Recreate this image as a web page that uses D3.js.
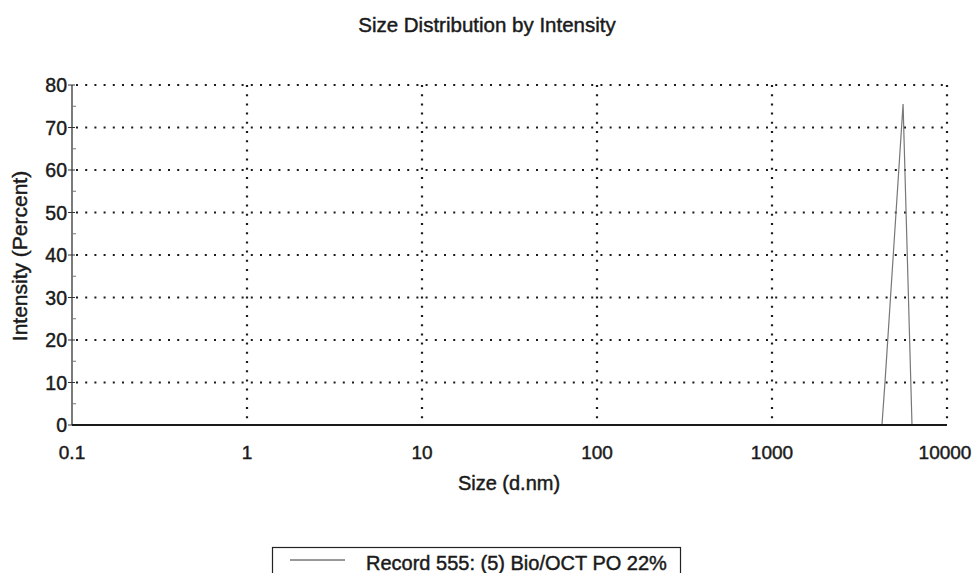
<!DOCTYPE html>
<html>
<head>
<meta charset="utf-8">
<script src="https://cdn.jsdelivr.net/npm/d3@7"></script>
<style>
  html, body { margin: 0; padding: 0; background: #fff; }
  svg { display: block; font-family: "Liberation Sans", Arial, sans-serif; }
  svg text { fill: #1a1a1a; stroke: #1a1a1a; stroke-width: 0.45px; }
</style>
</head>
<body>
<svg id="chart" width="977" height="573"></svg>
<script>
// Size distribution record (log-scale size in d.nm vs intensity in %)
const sizes = [0.1, 4250, 4430, 5610, 6310, 10000];
const intensity = [0, 0, 10.5, 75.5, 0, 0];

const xTicks = [0.1, 1, 10, 100, 1000, 10000];
const xTickLabels = ["0.1", "1", "10", "100", "1000", "10000"];
const yTicks = [0, 10, 20, 30, 40, 50, 60, 70, 80];
const yMinorTicks = [5, 15, 25, 35, 45, 55, 65, 75];

const titleText = "Size Distribution by Intensity";
const xTitle = "Size (d.nm)";
const yTitle = "Intensity (Percent)";
const legendLabel = "Record 555: (5) Bio/OCT PO 22%";

const svg = d3.select("#chart");
const m = { left: 72, right: 947, top: 85, bottom: 425 };

const x = d3.scaleLog().domain([0.1, 10000]).range([m.left, m.right]);
const y = d3.scaleLinear().domain([0, 80]).range([m.bottom, m.top]);

// Title
svg.append("text")
  .attr("x", 487).attr("y", 32)
  .attr("text-anchor", "middle")
  .attr("font-size", 20.5)
  .text(titleText);

// Dotted grid
const grid = svg.append("g")
  .attr("stroke", "#1a1a1a")
  .attr("stroke-width", 2.2)
  .attr("stroke-dasharray", "2,7.2");

grid.selectAll("line.h")
  .data(yTicks.filter(d => d > 0))
  .join("line")
  .attr("x1", m.left + 4).attr("x2", m.right)
  .attr("y1", d => y(d)).attr("y2", d => y(d));

grid.selectAll("line.v")
  .data(xTicks.filter(d => d > 0.1))
  .join("line")
  .attr("x1", d => x(d)).attr("x2", d => x(d))
  .attr("y1", m.top).attr("y2", m.bottom - 3);

// Left axis
const yAxis = svg.append("g");
yAxis.append("line")
  .attr("x1", m.left).attr("x2", m.left)
  .attr("y1", m.top).attr("y2", m.bottom)
  .attr("stroke", "#222").attr("stroke-width", 1.2);
yAxis.selectAll("line.major")
  .data(yTicks)
  .join("line")
  .attr("x1", m.left - 4).attr("x2", m.left + 3)
  .attr("y1", d => y(d)).attr("y2", d => y(d))
  .attr("stroke", "#333").attr("stroke-width", 1);
yAxis.selectAll("line.minor")
  .data(yMinorTicks)
  .join("line")
  .attr("class", "minor")
  .attr("x1", m.left).attr("x2", m.left + 4)
  .attr("y1", d => y(d)).attr("y2", d => y(d))
  .attr("stroke", "#777").attr("stroke-width", 1);
yAxis.selectAll("text")
  .data(yTicks)
  .join("text")
  .attr("x", m.left - 5)
  .attr("y", d => y(d) + 7)
  .attr("text-anchor", "end")
  .attr("font-size", 19.5)
  .text(d => d);

// Bottom axis labels
svg.selectAll("text.xt")
  .data(xTicks)
  .join("text")
  .attr("class", "xt")
  .attr("x", (d, i) => x(d) - (i === xTicks.length - 1 ? 2 : 0))
  .attr("y", 459)
  .attr("text-anchor", "middle")
  .attr("font-size", 19)
  .text((d, i) => xTickLabels[i]);

// Axis titles
svg.append("text")
  .attr("x", 509).attr("y", 490)
  .attr("text-anchor", "middle")
  .attr("font-size", 20)
  .text(xTitle);

svg.append("text")
  .attr("transform", "translate(27,256) rotate(-90)")
  .attr("text-anchor", "middle")
  .attr("font-size", 21)
  .text(yTitle);

// Data line
const line = d3.line()
  .x((d, i) => x(sizes[i]))
  .y(d => y(d));

svg.append("path")
  .datum(intensity)
  .attr("d", line)
  .attr("fill", "none")
  .attr("stroke", "#777")
  .attr("stroke-width", 1.2);

// Baseline (x axis)
svg.append("line")
  .attr("x1", m.left).attr("x2", m.right)
  .attr("y1", m.bottom).attr("y2", m.bottom)
  .attr("stroke", "#1a1a1a").attr("stroke-width", 2.2);

// Legend
const lg = svg.append("g");
lg.append("rect")
  .attr("x", 272.5).attr("y", 547.5)
  .attr("width", 408).attr("height", 40)
  .attr("fill", "#fff")
  .attr("stroke", "#222").attr("stroke-width", 1.2);
lg.append("line")
  .attr("x1", 290).attr("x2", 345)
  .attr("y1", 560).attr("y2", 560)
  .attr("stroke", "#333").attr("stroke-width", 1);
lg.append("text")
  .attr("x", 366).attr("y", 570)
  .attr("font-size", 20)
  .text(legendLabel);
</script>
</body>
</html>
